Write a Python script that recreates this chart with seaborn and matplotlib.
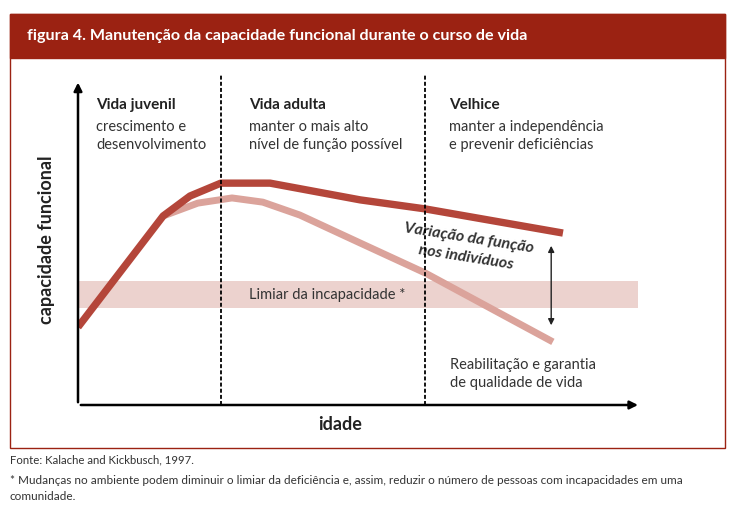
import matplotlib
matplotlib.use("Agg")
import matplotlib.pyplot as plt
import seaborn as sns
import pandas as pd
from matplotlib.patches import Rectangle

# data (arbitrary units: idade 0-100, capacidade 0-100)
idade_alta = [0, 15.2, 20, 25.5, 34.3, 50.4, 62, 86.6]
cap_alta = [24.2, 58.7, 64.9, 68.9, 68.9, 63.7, 60.9, 53.4]
idade_baixa = [15.2, 21.4, 27.5, 33, 39.6, 50.4, 62, 84.8]
cap_baixa = [58.7, 62.7, 64.3, 63, 59, 50.3, 41, 19.6]
limites_fase = [25.5, 62]
limiar = [30.1, 38.5]
variacao = [23.9, 50.3]
variacao_x = 84.5

fases = ["Vida juvenil", "Vida adulta", "Velhice"]
fases_txt = ["crescimento e\ndesenvolvimento",
             "manter o mais alto\nnível de função possível",
             "manter a independência\ne prevenir deficiências"]

W, H = 735, 505
DARK = "#9b2212"
LINE1 = "#b4463a"
LINE2 = "#dba39b"
BAND = "#ecd2ce"

sns.set_style("white")
plt.rcParams["font.family"] = ["Lato", "DejaVu Sans"]

fig = plt.figure(figsize=(W / 100, H / 100), dpi=100)


def fx(x):
    return x / W


def fy(y):
    return 1 - y / H


# frame + title bar
fig.patches.append(Rectangle((fx(10), fy(448)), fx(715), 434 / H, transform=fig.transFigure,
                             facecolor="none", edgecolor=DARK, lw=1))
fig.patches.append(Rectangle((fx(10), fy(58)), fx(715), 44 / H, transform=fig.transFigure,
                             facecolor=DARK, edgecolor=DARK, lw=1))
fig.text(fx(27), fy(36), "figura 4. Manutenção da capacidade funcional durante o curso de vida",
         color="white", fontsize=11.6, fontweight="bold", va="center")

ax = fig.add_axes([fx(78), fy(405), 560 / W, 322 / H])
ax.set_xlim(0, 100)
ax.set_ylim(0, 100)
for s in ax.spines.values():
    s.set_visible(False)
ax.set_xticks([])
ax.set_yticks([])
ax.patch.set_alpha(0)

# threshold band
ax.axhspan(limiar[0], limiar[1], xmin=0, xmax=1, color=BAND, lw=0, zorder=0)
ax.text(44.5, sum(limiar) / 2, "Limiar da incapacidade *", fontsize=10.5, color="#333333",
        ha="center", va="center")

df1 = pd.DataFrame({"idade": idade_alta, "cap": cap_alta})
df2 = pd.DataFrame({"idade": idade_baixa, "cap": cap_baixa})
sns.lineplot(data=df2, x="idade", y="cap", color=LINE2, lw=5, ax=ax, zorder=2,
             solid_capstyle="butt")
sns.lineplot(data=df1, x="idade", y="cap", color=LINE1, lw=5.3, ax=ax, zorder=3,
             solid_capstyle="butt")

for xv in limites_fase:
    ax.plot([xv, xv], [0, 102.5], color="black", lw=1.3, ls=(0, (2.2, 1.2)), zorder=4,
            clip_on=False)

# axes arrows
ax.annotate("", xy=(0, 1.01), xytext=(0, 0), xycoords="axes fraction",
            arrowprops=dict(arrowstyle="-|>", color="black", lw=1.8, mutation_scale=12))
ax.annotate("", xy=(1.005, 0), xytext=(0, 0), xycoords="axes fraction",
            arrowprops=dict(arrowstyle="-|>", color="black", lw=1.8, mutation_scale=12))

# variation arrow
ax.annotate("", xy=(variacao_x, variacao[0]), xytext=(variacao_x, variacao[1]),
            arrowprops=dict(arrowstyle="<|-|>", color="#222222", lw=1, mutation_scale=9))
ax.text(69.5, 48.8, "Variação da função\nnos indivíduos", fontsize=11.5, fontweight="bold",
        style="italic", color="#333333", rotation=-9, ha="center", va="center",
        linespacing=1.55)

# phase labels
fase_x = [96, 249, 449]
for xp, t, s in zip(fase_x, fases, fases_txt):
    fig.text(fx(xp), fy(105), t, fontsize=11, fontweight="bold", color="#222222", va="center")
    fig.text(fx(xp), fy(136), s, fontsize=10.5, color="#333333", va="center", linespacing=1.35)

fig.text(fx(450), fy(374), "Reabilitação e garantia\nde qualidade de vida", fontsize=10.5,
         color="#333333", va="center", linespacing=1.35)

fig.text(fx(47), fy(240), "capacidade funcional", fontsize=13, fontweight="bold",
         rotation=90, ha="center", va="center", color="#222222")
fig.text(fx(340), fy(425), "idade", fontsize=13, fontweight="bold", ha="center",
         va="center", color="#222222")

fig.text(fx(10), fy(460), "Fonte: Kalache and Kickbusch, 1997.", fontsize=8.2,
         color="#333333", va="center")
fig.text(fx(10), fy(480),
         "* Mudanças no ambiente podem diminuir o limiar da deficiência e, assim, reduzir o número de pessoas com incapacidades em uma",
         fontsize=8.5, color="#333333", va="center")
fig.text(fx(10), fy(496), "comunidade.", fontsize=8.5, color="#333333", va="center")

fig.savefig("out.png", dpi=100, facecolor="white")
